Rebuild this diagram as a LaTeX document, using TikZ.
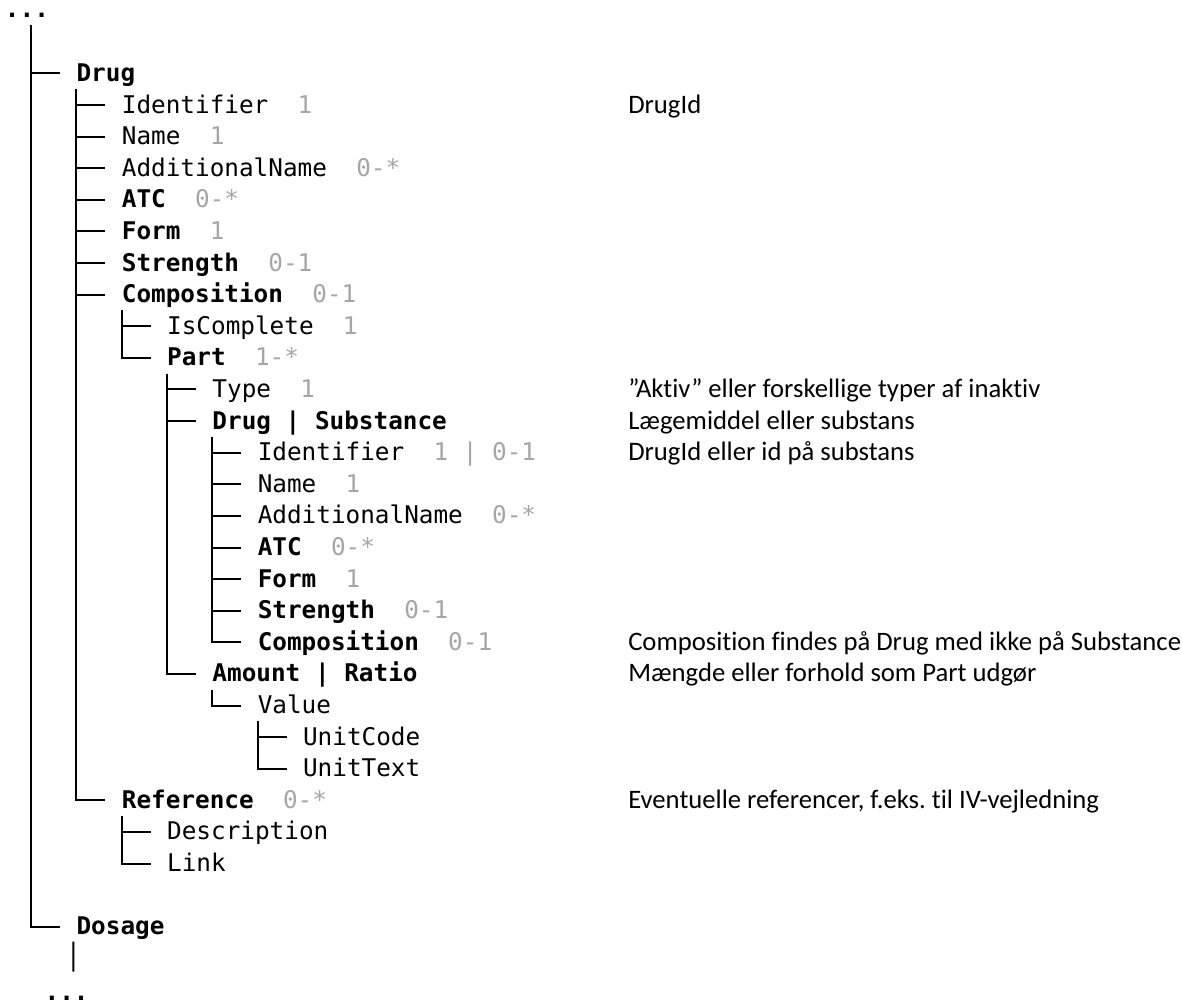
\documentclass[tikz,border=0pt]{standalone}
\usepackage{fontspec}
\newfontfamily\monof{DejaVu Sans Mono}
\newfontfamily\notef[Ligatures={NoCommon}]{Carlito}
\definecolor{card}{RGB}{166,166,166}
\newcommand\crd[1]{\textcolor{card}{#1}}
\newcommand\T[4]{\node[tree] (#3) at ({31+45.3*#1},{81.5+31.6*#2}) {#4};}
\newcommand\N[3]{\node[note] (#2) at (628,{81.5+31.6*#1}) {#3};}
\frenchspacing
\begin{document}
\begin{tikzpicture}[x=0.75pt,y=-0.75pt,
  tree/.style={anchor=base west, inner sep=0pt, font=\monof\fontsize{18.25pt}{22pt}\selectfont},
  note/.style={anchor=base west, inner sep=0pt, font=\notef\fontsize{20pt}{24pt}\selectfont},
  conn/.style={line width=1.5pt}]
\useasboundingbox[fill=white] (0,0) rectangle (1182,1005);

% end markers
\node[tree] (topdots) at (4.7,17.6) {\bfseries ...};
\node[tree] (botdots) at (44.4,1000.5) {\bfseries ...};

% tree texts
\T{1}{0}{drug}{\bfseries Drug}
\T{2}{1}{id1}{Identifier~~\crd{1}}
\T{2}{2}{nm1}{Name~~\crd{1}}
\T{2}{3}{an1}{AdditionalName~~\crd{0-*}}
\T{2}{4}{atc1}{\textbf{ATC}~~\crd{0-*}}
\T{2}{5}{form1}{\textbf{Form}~~\crd{1}}
\T{2}{6}{str1}{\textbf{Strength}~~\crd{0-1}}
\T{2}{7}{comp1}{\textbf{Composition}~~\crd{0-1}}
\T{3}{8}{iscomp}{IsComplete~~\crd{1}}
\T{3}{9}{part}{\textbf{Part}~~\crd{1-*}}
\T{4}{10}{type}{Type~~\crd{1}}
\T{4}{11}{dsub}{\bfseries Drug | Substance}
\T{5}{12}{id2}{Identifier~~\crd{1 | 0-1}}
\T{5}{13}{nm2}{Name~~\crd{1}}
\T{5}{14}{an2}{AdditionalName~~\crd{0-*}}
\T{5}{15}{atc2}{\textbf{ATC}~~\crd{0-*}}
\T{5}{16}{form2}{\textbf{Form}~~\crd{1}}
\T{5}{17}{str2}{\textbf{Strength}~~\crd{0-1}}
\T{5}{18}{comp2}{\textbf{Composition}~~\crd{0-1}}
\T{4}{19}{amt}{\bfseries Amount | Ratio}
\T{5}{20}{val}{Value}
\T{6}{21}{ucode}{UnitCode}
\T{6}{22}{utext}{UnitText}
\T{2}{23}{ref}{\textbf{Reference}~~\crd{0-*}}
\T{3}{24}{desc}{Description}
\T{3}{25}{link}{Link}
\T{1}{27}{dosage}{\bfseries Dosage}

% notes
\N{1}{c1}{DrugId}
\N{10}{c2}{”Aktiv” eller forskellige typer af inaktiv}
\N{11}{c3}{Lægemiddel eller substans}
\N{12}{c4}{DrugId eller id på substans}
\N{18}{c5}{Composition findes på Drug med ikke på Substance}
\N{19}{c6}{Mængde eller forhold som Part udgør}
\N{23}{c7}{Eventuelle referencer, f.eks. til IV-vejledning}

% connectors
\foreach \c in {drug,dosage}
  \draw[conn] ([xshift=19.7pt,yshift=-5.55pt]topdots.base west) |- ([xshift=-12.2pt,yshift=6pt]\c.base west);
\foreach \p/\c in {drug/id1,drug/nm1,drug/an1,drug/atc1,drug/form1,drug/str1,drug/comp1,drug/ref,
    comp1/iscomp,comp1/part,
    part/type,part/dsub,part/amt,
    dsub/id2,dsub/nm2,dsub/an2,dsub/atc2,dsub/form2,dsub/str2,dsub/comp2,
    amt/val,val/ucode,val/utext,
    ref/desc,ref/link}
  \draw[conn] ([yshift=-5.85pt]\p.base west) |- ([xshift=-12.2pt,yshift=6pt]\c.base west);
\draw[conn] ([xshift=-2.25pt,yshift=-5.25pt]dosage.base west) -- ([xshift=21.7pt,yshift=21.6pt]botdots.base west);
\end{tikzpicture}
\end{document}
